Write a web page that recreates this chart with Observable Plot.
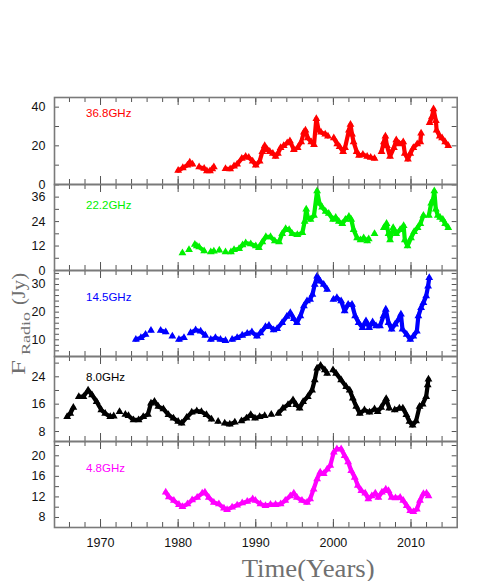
<!DOCTYPE html>
<html><head><meta charset="utf-8">
<script src="https://cdn.jsdelivr.net/npm/d3@7"></script>
<script src="https://cdn.jsdelivr.net/npm/@observablehq/plot@0.6"></script>
<style>
body{margin:0;background:#fff;}
#wrap{position:relative;width:498px;height:581px;overflow:hidden;font-family:"Liberation Sans",Arial,sans-serif;}
#wrap svg{position:absolute;left:0;overflow:visible;background:transparent;}
</style></head><body><div id="wrap"></div>
<script>
// ---------- data ----------
const yr368 = [1980.0,1980.6,1981.2,1981.5,1981.85,1982.7,1983.35,1983.7,1984.1,1984.4,1984.6,1986.1,1986.7,1987.2,1987.6,1988.2,1988.7,1989.1,1989.6,1990.0,1990.5,1990.85,1991.15,1991.5,1991.8,1992.2,1992.55,1992.85,1993.2,1993.6,1994.05,1994.4,1994.9,1995.4,1995.85,1996.2,1996.4,1996.7,1997.15,1997.5,1997.8,1998.1,1998.4,1998.95,1999.3,2000.05,2000.5,2000.8,2001.25,2001.5,2002.0,2002.2,2002.4,2002.6,2003.0,2003.3,2003.8,2004.35,2004.8,2005.3,2006.2,2006.5,2006.7,2006.9,2007.3,2007.8,2008.1,2008.5,2009.0,2009.2,2009.6,2009.9,2010.3,2010.8,2011.2,2011.3,2012.4,2012.7,2012.9,2013.2,2013.3,2013.7,2014.0,2014.4,2014.8];
const fx368 = [7.2,8.6,10,11.5,10.5,9.0,8.3,7.0,7.0,8.0,9.0,8.2,8.0,9.5,10.5,13.5,14.5,14,12,10,12,17,20,18,17,16,14.5,16,19,20,21.5,22.5,18,19,22,27,28,24,22,20.5,34,28,27,26,25,24,21,19.5,17,19,28,31,26,22,17,15,15.5,14.5,14,13.5,17,22,25,20,14.5,19,23,21,22,16,13,16,19,21,22,26.5,32,35,39,33,28,25,24,22,20];

const yr222 = [1980.55,1981.4,1982.15,1982.4,1982.7,1983.35,1984.2,1984.6,1985.3,1986.1,1986.8,1987.2,1987.85,1988.3,1988.7,1989.35,1990.0,1990.4,1990.85,1991.3,1991.9,1992.45,1993.0,1993.4,1993.85,1994.3,1994.7,1995.35,1996.0,1996.3,1996.5,1996.7,1997.05,1997.5,1997.9,1998.2,1998.55,1999.0,1999.4,1999.95,2000.3,2000.7,2001.15,2001.55,2002.0,2002.3,2002.6,2003.05,2003.5,2003.9,2004.35,2004.55,2005.3,2006.5,2006.85,2007.1,2007.3,2007.7,2008.1,2008.6,2009.05,2009.2,2009.55,2010.0,2010.4,2010.85,2011.2,2011.6,2012.3,2012.6,2012.85,2013.0,2013.2,2013.45,2013.75,2014.1,2014.4,2014.8];
const fx222 = [8.6,10.2,12.8,12.0,11.5,9.6,9.1,9.5,9.9,9.1,9.1,10.2,10.7,12.5,13.5,13,12,11.2,14,16.5,16.5,14.5,14,18,20.5,20,18,17.5,18.5,24,30,26,25,27,39,33,31,29,28,25,26,24,23,25,26.5,25,20,16,15,16,14.5,15.5,18,21,23,18,15,21,18,20,22,15,12,16,19,21,23,27,27,33,35,39,30,27,26,25,23,21];

const yr145 = [1974.55,1975.2,1975.8,1976.5,1977.75,1978.4,1979.25,1980.1,1980.75,1981.6,1982.25,1982.9,1983.5,1984.2,1984.8,1985.45,1986.1,1986.95,1987.6,1988.25,1988.9,1989.5,1990.15,1990.6,1991.25,1991.7,1992.3,1992.75,1993.4,1994.0,1994.45,1994.9,1995.3,1995.75,1996.2,1996.6,1997.0,1997.3,1997.6,1997.9,1998.3,1998.75,1999.2,2000.0,2000.45,2001.0,2001.45,2001.9,2002.4,2002.8,2003.25,2003.75,2004.2,2004.6,2005.05,2005.5,2006.0,2006.45,2006.75,2007.1,2007.5,2007.95,2008.4,2008.7,2008.9,2009.45,2009.9,2010.3,2010.75,2010.95,2011.3,2011.6,2011.95,2012.2,2012.35];
const fx145 = [10.1,10.7,11.9,13.4,13.4,12.8,11.3,10.1,10.7,12.5,13.5,13.1,11.6,10.1,10.7,10.1,9.7,10.1,10.7,11.6,12.3,12.8,11.3,12.5,14.7,15.2,13.5,14.0,16.2,18.4,19.8,17.6,16.2,18.6,22.2,24.0,24.6,26.4,30.0,33.0,31.2,30.0,28.2,24.6,25.2,24.0,20.4,22.8,22.8,18.6,16.2,14.4,16.8,14.4,16.4,15.0,15.0,18.6,21.0,16.2,13.8,15.6,17.4,19.2,13.8,11.9,10.1,11.3,13.1,18.6,21.6,23.4,25.8,29.4,32.4];

const yr80 = [1965.7,1966.1,1966.5,1967.2,1967.8,1968.4,1968.9,1969.5,1970.1,1970.6,1971.25,1971.7,1972.45,1973.2,1973.6,1974.25,1974.9,1975.5,1976.1,1976.5,1976.95,1977.45,1978.1,1978.75,1979.4,1980.0,1980.45,1981.1,1981.75,1982.4,1983.0,1983.65,1984.3,1985.15,1986.0,1986.65,1987.3,1988.15,1988.8,1989.35,1989.9,1990.5,1991.15,1992.0,1992.9,1993.5,1994.15,1994.8,1995.2,1995.65,1996.1,1996.7,1997.25,1997.6,1997.9,1998.35,1998.9,1999.2,1999.95,2000.35,2001.0,2001.65,2002.1,2002.5,2002.95,2003.4,2004.0,2004.65,2005.3,2005.7,2006.15,2006.8,2007.2,2007.9,2008.5,2008.95,2009.4,2009.8,2010.2,2010.65,2011.1,2011.5,2011.95,2012.15,2012.25];
const fx80 = [12.3,13.3,15.0,18.2,18.2,20.1,18.7,16.7,14.3,13.3,12.3,12.5,13.8,13.0,12.6,11.4,11.4,12.3,13.0,16.3,16.8,15.3,14.6,12.9,11.9,10.9,10.4,12.1,13.6,14.0,13.8,12.9,11.6,10.9,10.4,10.1,10.7,11.1,11.9,12.9,11.9,12.3,12.6,13.0,13.3,14.8,15.8,17.2,15.8,14.8,16.7,18.2,20.1,23.1,26.5,27.3,26.0,25.0,26.0,25.0,23.1,21.1,20.1,17.7,15.3,13.3,14.3,13.6,14.6,13.8,15.0,17.6,14.8,14.3,14.8,14.8,12.9,10.9,9.8,11.1,15.3,16.0,18.2,21.6,23.3];

const yr48 = [1978.4,1978.8,1979.45,1980.1,1980.55,1981.2,1981.8,1982.45,1983.1,1983.45,1983.95,1984.6,1985.25,1985.9,1986.3,1986.95,1987.6,1988.25,1988.9,1989.6,1989.95,1990.6,1991.25,1991.9,1992.55,1993.2,1993.8,1994.45,1994.9,1995.3,1995.95,1996.6,1997.0,1997.45,1997.9,1998.3,1998.75,1999.2,1999.6,2000.05,2000.45,2001.0,2001.45,2001.9,2002.3,2002.75,2003.15,2003.6,2004.1,2004.5,2004.95,2005.4,2005.8,2006.25,2006.75,2007.1,2007.5,2008.0,2008.6,2009.0,2009.45,2009.9,2010.3,2010.75,2011.15,2011.6,2012.0,2012.25];
const fx48 = [12.9,12.0,11.3,10.5,10.1,10.6,11.4,11.9,12.7,12.9,11.9,10.9,10.6,9.8,9.5,10.0,10.4,10.8,11.1,11.6,11.3,10.6,10.3,10.5,10.5,10.6,11.3,12.2,12.7,11.9,11.3,10.9,11.6,13.5,15.5,16.8,16.5,17.4,18.1,20.7,21.3,21.3,20.0,18.8,17.1,15.8,14.2,13.2,12.7,11.6,12.2,12.7,11.9,12.9,13.5,13.2,11.9,11.8,11.9,11.3,10.3,9.3,9.1,9.6,11.3,12.6,12.7,12.2];

const freqLabels = ["36.8GHz","22.2GHz","14.5GHz","8.0GHz","4.8GHz"];
const majorYears = [1970,1980,1990,2000,2010];
const minorYears = [1966,1968,1970,1972,1974,1976,1978,1980,1982,1984,1986,1988,1990,1992,1994,1996,1998,2000,2002,2004,2006,2008,2010,2012,2014];
const yTicks368 = [0,10,20,30,40],            yLab368 = [0,20,40];
const yTicks222 = [0,6,12,18,24,30,36,42],    yLab222 = [0,12,24,36];
const yTicks145 = [6,8,10,12,14,16,18,20,22,24,26,28,30,32,34], yLab145 = [10,20,30];
const yTicks80  = [8,12,16,20,24,28],         yLab80  = [8,16,24];
const yTicks48  = [8,10,12,14,16,18,20,22],   yLab48  = [8,12,16,20];

// ---------- layout ----------
const W = 498, ML = 54, MR = 41.3;
const X_DOMAIN = [1964.07, 2015.95];
const panels = [
  {label:freqLabels[0], color:"#ff0000", years:yr368, flux:fx368, top:97,  height:87, domain:[0,45],        ticks:yTicks368, labels:yLab368, labelDy:16},
  {label:freqLabels[1], color:"#00f000", years:yr222, flux:fx222, top:184, height:86, domain:[0,42.2],      ticks:yTicks222, labels:yLab222, labelDy:20.5},
  {label:freqLabels[2], color:"#0000ff", years:yr145, flux:fx145, top:270, height:86, domain:[3.96,35.06],  ticks:yTicks145, labels:yLab145, labelDy:27},
  {label:freqLabels[3], color:"#000000", years:yr80,  flux:fx80,  top:356, height:85, domain:[5.08,29.94],  ticks:yTicks80,  labels:yLab80,  labelDy:20.5},
  {label:freqLabels[4], color:"#ff00ff", years:yr48,  flux:fx48,  top:441, height:86, domain:[6.05,22.78],  ticks:yTicks48,  labels:yLab48,  labelDy:27}
];
const wrap = document.getElementById("wrap");
const tickColor = "#555";
const innerW = W - ML - MR;

panels.forEach((p, idx) => {
  const rows = [];
  let seg = 0;
  p.years.forEach((t, i) => {
    if (i > 0 && t - p.years[i-1] > 0.7) seg++;
    rows.push({t, f: p.flux[i], seg});
  });
  const isLast = idx === panels.length - 1;
  const mb = isLast ? 30 : 0;
  const chart = Plot.plot({
    width: W, height: p.height + mb,
    marginLeft: ML, marginRight: MR, marginTop: 0, marginBottom: mb,
    x: isLast ? {domain: X_DOMAIN, ticks: majorYears, tickSize: 0, tickPadding: 11, tickFormat: d => String(d), label: null}
              : {domain: X_DOMAIN, axis: null},
    y: {domain: p.domain, ticks: p.labels, tickSize: 0, tickPadding: 9, tickFormat: d => String(d), label: null},
    style: {background: "transparent", overflow: "visible", fontFamily: "'Liberation Sans', Arial, sans-serif", fontSize: "12.5px", color: "#111"},
    marks: [
      Plot.line(rows, {x: "t", y: "f", z: "seg", stroke: p.color, strokeWidth: 4.2, strokeLinejoin: "round", strokeLinecap: "round"}),
      Plot.dot(rows, {x: "t", y: "f", symbol: "triangle", r: 2.9, fill: p.color}),
      Plot.ruleX(minorYears, {stroke: tickColor, insetBottom: p.height - 5}),
      Plot.ruleX(minorYears, {stroke: tickColor, insetTop: p.height - 5}),
      Plot.ruleX(majorYears, {stroke: tickColor, insetBottom: p.height - 8}),
      Plot.ruleX(majorYears, {stroke: tickColor, insetTop: p.height - 8}),
      Plot.ruleY(p.ticks, {stroke: tickColor, insetRight: innerW - 5}),
      Plot.ruleY(p.ticks, {stroke: tickColor, insetLeft: innerW - 5}),
      Plot.frame({stroke: "#7a7a7a", strokeWidth: 1.6}),
      Plot.text([p.label], {text: d => d, frameAnchor: "top-left", dx: 31.5, dy: p.labelDy, textAnchor: "start", lineAnchor: "middle", fill: p.color, fontSize: 11.5})
    ]
  });
  chart.style.top = p.top + "px";
  wrap.appendChild(chart);
});

// ---------- axis titles ----------
const svg = d3.select(wrap).append("svg")
  .attr("width", W).attr("height", 581).style("top", "0px").style("pointer-events", "none");
const titleFont = "'Liberation Serif', 'DejaVu Serif', serif";
const g = svg.append("g").attr("transform", "translate(0,375) rotate(-90)")
  .attr("fill", "#707070").attr("font-family", titleFont);
g.append("text").attr("x", 0).attr("y", 25).attr("font-size", 19)
  .attr("textLength", 15).attr("lengthAdjust", "spacingAndGlyphs").text("F");
g.append("text").attr("x", 20).attr("y", 30).attr("font-size", 12.5)
  .attr("textLength", 43).attr("lengthAdjust", "spacingAndGlyphs").text("Radio");
g.append("text").attr("x", 70).attr("y", 25).attr("font-size", 19)
  .attr("textLength", 32).attr("lengthAdjust", "spacingAndGlyphs").text("(Jy)");
svg.append("text").attr("x", 241.7).attr("y", 576.5)
  .attr("font-family", titleFont).attr("font-size", 26).attr("fill", "#707070")
  .attr("textLength", 133).attr("lengthAdjust", "spacingAndGlyphs").text("Time(Years)");
</script>
</body></html>
